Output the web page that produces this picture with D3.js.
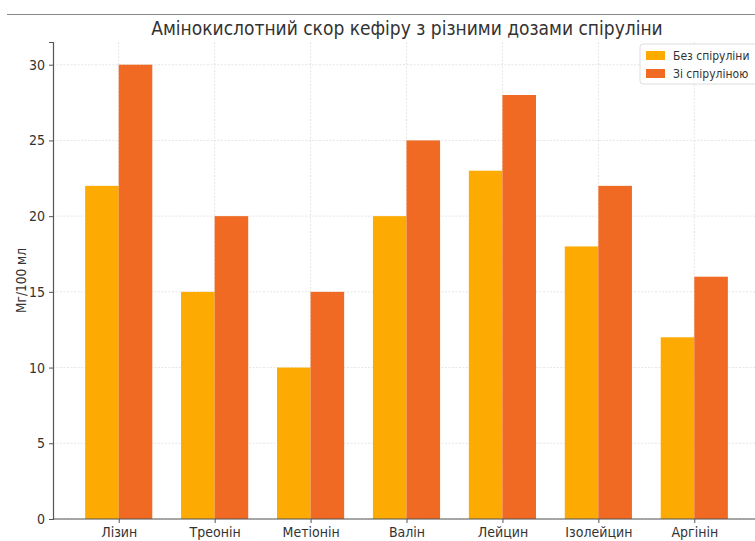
<!DOCTYPE html>
<html>
<head>
<meta charset="utf-8">
<script src="https://cdn.jsdelivr.net/npm/d3@7"></script>
<style>
  html, body { margin: 0; padding: 0; background: #fff; }
  svg { display: block; font-family: "DejaVu Sans", sans-serif; }
</style>
</head>
<body>
<svg id="chart" width="755" height="541"></svg>
<script>
// Amino acids and their scores (mg per 100 ml)
const categories = ["Лізин", "Треонін", "Метіонін", "Валін", "Лейцин", "Ізолейцин", "Аргінін"];
const withoutSpirulina = [22, 15, 10, 20, 23, 18, 12];
const withSpirulina = [30, 20, 15, 25, 28, 22, 16];
const seriesNames = ["Без спіруліни", "Зі спіруліною"];
const seriesColors = ["#FDAA02", "#F06A24"];
const yTicks = [0, 5, 10, 15, 20, 25, 30];

const svg = d3.select("#chart");
const W = 755, H = 541;
const plot = { left: 53, right: 760, top: 42, bottom: 519 };
const condensed = "'DejaVu Sans Condensed', 'DejaVu Sans', sans-serif";

// Category index scale, padded the way a grouped bar layout of width 0.35 is
const barW = 0.35;
const x = d3.scaleLinear().domain([-0.685, categories.length - 1 + 0.685])
  .range([plot.left, plot.right]);
const y = d3.scaleLinear().domain([0, 31.5]).range([plot.bottom, plot.top]);

// Thin rule across the top
svg.append("line").attr("x1", 7).attr("x2", W).attr("y1", 14.5).attr("y2", 14.5)
  .attr("stroke", "#8a8a8a").attr("stroke-width", 1.2);

// Grid
const grid = svg.append("g").attr("stroke", "#e0e0e0").attr("stroke-width", 0.8)
  .attr("stroke-dasharray", "2,1.5");
grid.selectAll("line.h").data(yTicks).join("line").attr("class", "h")
  .attr("x1", plot.left).attr("x2", plot.right)
  .attr("y1", d => y(d)).attr("y2", d => y(d));
grid.selectAll("line.v").data(categories.map((c, i) => i)).join("line").attr("class", "v")
  .attr("x1", d => x(d)).attr("x2", d => x(d))
  .attr("y1", plot.top).attr("y2", plot.bottom);

// Bars
const series = [withoutSpirulina, withSpirulina];
series.forEach((vals, s) => {
  svg.append("g").selectAll("rect").data(vals).join("rect")
    .attr("x", (d, i) => x(i + (s === 0 ? -barW : 0)))
    .attr("width", (d, i) => x(i + barW) - x(i))
    .attr("y", d => y(d))
    .attr("height", d => y(0) - y(d))
    .attr("fill", seriesColors[s]);
});

// Axes
const yAxis = svg.append("g").attr("transform", `translate(${plot.left},0)`)
  .call(d3.axisLeft(y).tickValues(yTicks).tickSize(4).tickPadding(4).tickFormat(d3.format("d")));
const xAxis = svg.append("g").attr("transform", `translate(0,${plot.bottom})`)
  .call(d3.axisBottom(x).tickValues(categories.map((c, i) => i)).tickSize(4).tickPadding(4)
    .tickFormat(i => categories[i]));
[xAxis, yAxis].forEach(a => {
  a.select(".domain").attr("stroke", "#555").attr("stroke-width", 1.2);
  a.selectAll(".tick line").attr("stroke", "#555");
  a.selectAll("text").attr("fill", "#333").style("font-size", "14px")
    .style("font-family", condensed);
});
xAxis.select(".domain").attr("d", `M${plot.left},0H${W}`);

// Y-axis title
svg.append("text").attr("transform", `translate(26,${(plot.top + plot.bottom) / 2}) rotate(-90)`)
  .attr("text-anchor", "middle").attr("fill", "#333")
  .style("font-size", "13.5px").style("font-family", condensed)
  .text("Мг/100 мл");

// Title
svg.append("text").attr("x", 407).attr("y", 35).attr("text-anchor", "middle")
  .attr("fill", "#333").style("font-size", "19px")
  .style("font-family", condensed)
  .text("Амінокислотний скор кефіру з різними дозами спіруліни");

// Legend
const lg = svg.append("g").attr("transform", "translate(640,44)");
lg.append("rect").attr("width", 120).attr("height", 40).attr("rx", 3)
  .attr("fill", "#fff").attr("fill-opacity", 0.85).attr("stroke", "#dddddd");
seriesNames.forEach((name, i) => {
  const row = lg.append("g").attr("transform", `translate(6,${12 + i * 18})`);
  row.append("rect").attr("x", 0).attr("y", -5).attr("width", 19).attr("height", 9)
    .attr("fill", seriesColors[i]);
  row.append("text").attr("x", 27).attr("y", 4).attr("fill", "#333")
    .style("font-size", "12px")
    .style("font-family", condensed)
    .text(name);
});
</script>
</body>
</html>
